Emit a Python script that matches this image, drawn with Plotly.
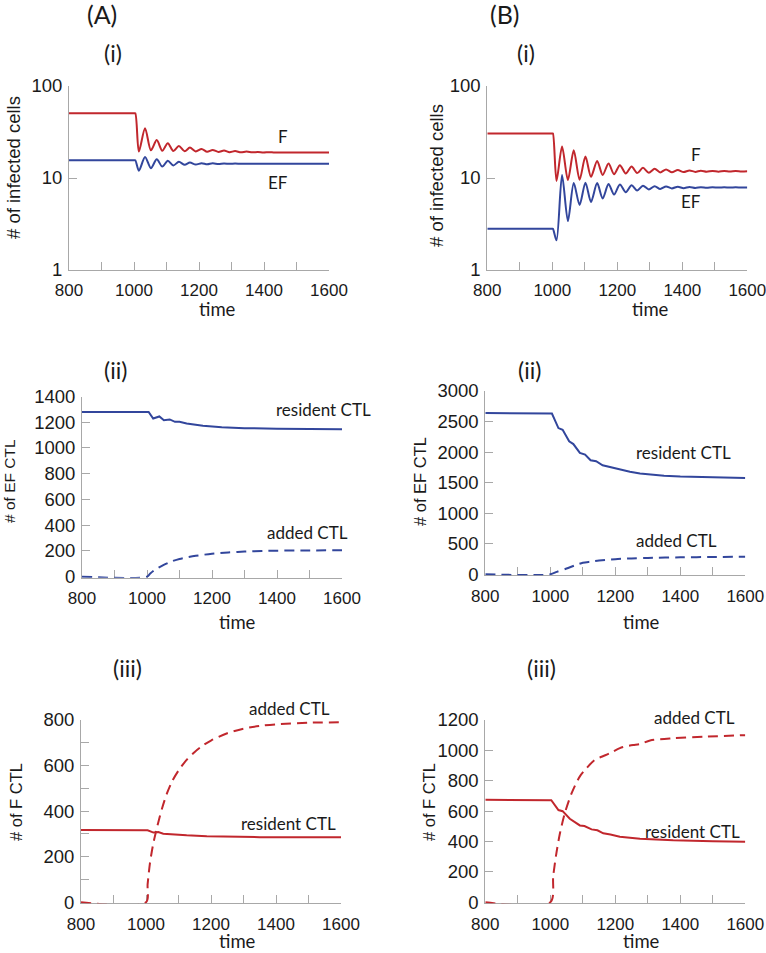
import plotly.graph_objects as go

W, H = 766, 953
RED = 'rgb(193,39,45)'
BLUE = 'rgb(50,70,156)'
AXC = '#a8a8a8'

# ---------------- data ----------------
# (A)(i) infected cells (log scale)
t_Ai = [800, 1000, 1004, 1015, 1034, 1052, 1070, 1087, 1104, 1121, 1138, 1156, 1172, 1190,
        1208, 1225, 1242, 1260, 1277, 1294, 1311, 1329, 1346, 1364, 1381, 1398, 1416, 1433,
        1500, 1600]
F_Ai = [50.5, 50.5, 50.5, 19.4, 34.8, 20.0, 25.9, 19.8, 23.9, 19.6, 22.3, 19.5, 21.4, 19.4,
        20.7, 19.3, 20.2, 19.2, 19.9, 19.1, 19.6, 19.0, 19.4, 19.0, 19.2, 18.95, 19.1, 18.92,
        18.9, 18.9]
EF_Ai = [15.6, 15.6, 15.6, 12.0, 16.9, 12.8, 16.0, 13.3, 15.4, 13.7, 15.0, 13.9, 14.7, 14.0,
         14.5, 14.1, 14.45, 14.2, 14.4, 14.25, 14.35, 14.28, 14.33, 14.28, 14.32, 14.28, 14.31,
         14.29, 14.3, 14.3]

# (B)(i) infected cells (log scale)
t_Bi = [800, 1000, 1002, 1013, 1030, 1048, 1066, 1084, 1102, 1119, 1138, 1155, 1173, 1190,
        1208, 1226, 1244, 1261, 1279, 1297, 1315, 1332, 1350, 1368, 1386, 1404, 1422, 1440,
        1457, 1475, 1493, 1511, 1529, 1546, 1564, 1582, 1600]
F_Bi = [30.5, 30.5, 30.5, 9.3, 22.0, 9.5, 20.0, 9.6, 17.1, 10.3, 15.3, 10.8, 14.4, 11.0,
        13.8, 11.2, 13.3, 11.3, 12.9, 11.4, 12.6, 11.5, 12.4, 11.55, 12.2, 11.6, 12.1, 11.65,
        12.0, 11.7, 11.95, 11.72, 11.9, 11.74, 11.88, 11.76, 11.82]
EF_Bi = [2.8, 2.8, 2.8, 2.1, 10.8, 3.4, 8.8, 5.1, 8.9, 5.5, 8.8, 6.0, 8.6, 6.6,
         8.5, 7.0, 8.35, 7.3, 8.25, 7.5, 8.15, 7.6, 8.1, 7.7, 8.05, 7.75, 8.0, 7.8,
         7.95, 7.85, 7.94, 7.86, 7.93, 7.87, 7.92, 7.88, 7.9]

# (A)(ii) EF CTL
t_Aii_res = [800, 1000, 1005, 1019, 1030, 1038, 1052, 1062, 1070, 1086, 1100, 1122, 1150,
             1172, 1230, 1300, 1400, 1500, 1600]
res_Aii = [1280, 1280, 1280, 1229, 1240, 1245, 1216, 1222, 1222, 1203, 1204, 1190, 1180,
           1172, 1162, 1154, 1150, 1147, 1146]
t_Aii_add = [800, 1000, 1010, 1025, 1050, 1075, 1100, 1150, 1200, 1250, 1300, 1400, 1500, 1600]
add_Aii = [0, 0, 25, 55, 90, 118, 138, 162, 178, 188, 195, 202, 204, 205]

# (B)(ii) EF CTL
t_Bii_res = [800, 1000, 1005, 1025, 1038, 1058, 1071, 1091, 1107, 1124, 1141, 1161, 1174,
             1195, 1214, 1245, 1276, 1300, 1350, 1400, 1500, 1600]
res_Bii = [2640, 2640, 2630, 2393, 2366, 2176, 2132, 1986, 1959, 1866, 1850, 1785, 1769,
           1735, 1714, 1680, 1650, 1635, 1615, 1602, 1585, 1575]
t_Bii_add = [800, 1000, 1020, 1050, 1075, 1100, 1125, 1150, 1200, 1250, 1300, 1400, 1500, 1600]
add_Bii = [0, 0, 40, 95, 145, 190, 208, 225, 248, 260, 268, 278, 283, 287]

# (A)(iii) F CTL
t_Aiii_res = [800, 1000, 1005, 1023, 1038, 1053, 1080, 1125, 1187, 1269, 1350, 1450, 1600]
res_Aiii = [317, 317, 316, 306, 308, 301, 298, 294, 290, 287, 286, 285, 285]
t_Aiii_add = [800, 1000, 1005, 1012, 1022, 1035, 1050, 1065, 1080, 1100, 1125, 1150, 1175,
              1200, 1250, 1300, 1350, 1400, 1500, 1600]
add_Aiii = [0, 0, 80, 170, 255, 335, 415, 480, 530, 578, 625, 660, 688, 710, 742, 762, 774,
            781, 788, 790]

# (B)(iii) F CTL
t_Biii_res = [800, 1000, 1003, 1025, 1038, 1060, 1076, 1091, 1105, 1127, 1145, 1163, 1185,
              1214, 1276, 1378, 1500, 1600]
res_Biii = [675, 675, 672, 607, 600, 550, 528, 506, 502, 480, 474, 454, 446, 432, 419, 408,
            402, 399]
t_Biii_add = [800, 1000, 1009, 1019, 1030, 1045, 1066, 1091, 1112, 1137, 1160, 1184, 1214,
              1240, 1255, 1276, 1307, 1378, 1481, 1600]
add_Biii = [0, 0, 175, 327, 458, 589, 720, 829, 884, 938, 960, 982, 1015, 1030, 1036, 1041,
            1065, 1080, 1091, 1100]

x_ticks = [800, 1000, 1200, 1400, 1600]

# ---------------- layout helpers ----------------
def fx(x):
    return x / W


def fy(y):
    return 1 - y / H

# plot rectangles in pixels: (left, right, top, bottom)
panels = [
    (69, 329, 86, 270),
    (487.3, 747.3, 86, 270),
    (82, 342, 396.5, 577.7),
    (485.3, 745.3, 391, 575.3),
    (81, 341, 720, 903.3),
    (485.3, 745.3, 720, 903.3),
]

fig = go.Figure()

def add_line(i, x, y, color, dash='solid', shape='linear'):
    sfx = '' if i == 1 else str(i)
    fig.add_trace(go.Scatter(
        x=x, y=y, mode='lines', xaxis='x' + sfx, yaxis='y' + sfx,
        line=dict(color=color, width=2, dash=dash, shape=shape, smoothing=0.8),
        showlegend=False, hoverinfo='skip'))

DASH = '10px,6px'
add_line(1, t_Ai, F_Ai, RED, shape='spline')
add_line(1, t_Ai, EF_Ai, BLUE, shape='spline')
add_line(2, t_Bi, F_Bi, RED, shape='spline')
add_line(2, t_Bi, EF_Bi, BLUE, shape='spline')
add_line(3, t_Aii_res, res_Aii, BLUE)
add_line(3, t_Aii_add, add_Aii, BLUE, dash=DASH, shape='spline')
add_line(4, t_Bii_res, res_Bii, BLUE)
add_line(4, t_Bii_add, add_Bii, BLUE, dash=DASH, shape='spline')
add_line(5, t_Aiii_res, res_Aiii, RED)
add_line(5, t_Aiii_add, add_Aiii, RED, dash=DASH, shape='spline')
add_line(6, t_Biii_res, res_Biii, RED)
add_line(6, t_Biii_add, add_Biii, RED, dash=DASH, shape='spline')

common = dict(showline=True, linecolor=AXC, linewidth=1, ticks='inside', ticklen=8,
              tickcolor=AXC, tickwidth=1, showgrid=False, zeroline=False,
              layer='below traces', fixedrange=True, automargin=False,
              ticklabeloverflow='allow')

yinfo = [
    dict(type='log', range=[0, 2], tickvals=[1, 10, 100], ticktext=['1', '10', '100']),
    dict(type='log', range=[0, 2], tickvals=[1, 10, 100], ticktext=['1', '10', '100']),
    dict(range=[-8, 1400], tick0=0, dtick=200),
    dict(range=[-16, 3000], tick0=0, dtick=500),
    dict(range=[-4.4, 800], tick0=0, dtick=200,
         minor=dict(dtick=100, ticks='inside', ticklen=8, tickcolor=AXC)),
    dict(range=[-6.5, 1200], tick0=0, dtick=200),
]

layout = dict(width=W, height=H, margin=dict(l=0, r=0, t=0, b=0, autoexpand=False),
              paper_bgcolor='white', plot_bgcolor='white', showlegend=False)

for i, (l, r, t, b) in enumerate(panels, start=1):
    sfx = '' if i == 1 else str(i)
    xa = dict(common, domain=[fx(l), fx(r)], range=[800, 1600], tickvals=x_ticks,
              anchor='y' + sfx,
              minor=dict(tickvals=[900, 1100, 1300, 1500], ticks='inside', ticklen=8,
                         tickcolor=AXC),
              tickfont=dict(family='Liberation Sans, Arial', size=17, color='#1a1a1a'),
              ticklabelstandoff=5)
    ya = dict(common, domain=[fy(b), fy(t)], anchor='x' + sfx,
              tickfont=dict(family='Liberation Sans, Arial', size=18.5, color='#1a1a1a'),
              ticklabelstandoff=2)
    ya.update(yinfo[i - 1])
    layout['xaxis' + sfx] = xa
    layout['yaxis' + sfx] = ya

fig.update_layout(**layout)

ann = []

def text(x, y, s, size, family='Lato', angle=0):
    ann.append(dict(x=fx(x), y=fy(y), xref='paper', yref='paper', text=s,
                    showarrow=False, xanchor='center', yanchor='middle', textangle=angle,
                    font=dict(family=family, size=size, color='#1a1a1a')))

# panel letters
text(102, 14, '(A)', 25)
text(505, 14, '(B)', 25)
text(113, 53, '(i)', 23)
text(526, 53, '(i)', 23)
text(115, 370, '(ii)', 23)
text(529, 370, '(ii)', 23)
text(127, 668, '(iii)', 23)
text(541, 668, '(iii)', 23)

# x titles
for (x, y) in [(218, 309), (650, 309), (237, 622), (641, 622), (237, 941), (641, 941)]:
    text(x, y, 'time', 18.5)

# y titles
ARIAL = 'Liberation Sans, Arial'
text(13, 168, '# of infected cells', 18.5, ARIAL, -90)
text(437, 176, '# of infected cells', 18.5, ARIAL, -90)
text(10, 481, '# of EF CTL', 15.5, ARIAL, -90)
text(420, 482, '# of EF CTL', 16.5, ARIAL, -90)
text(16, 802, '# of F CTL', 16.5, ARIAL, -90)
text(429, 802, '# of F CTL', 16.5, ARIAL, -90)

# series labels
text(283, 137, 'F', 17)
text(278, 182, 'EF', 17)
text(696, 154, 'F', 17)
text(691, 201, 'EF', 17)
text(323, 409, 'resident CTL', 17)
text(307, 532, 'added CTL', 17)
text(683, 453, 'resident CTL', 17)
text(676, 540, 'added CTL', 17)
text(289, 708, 'added CTL', 17)
text(288, 823, 'resident CTL', 17)
text(694, 717, 'added CTL', 17)
text(692, 831, 'resident CTL', 17)

fig.update_layout(annotations=ann)
fig.write_html('out.html', config={'displayModeBar': False},
               post_script="document.body.style.margin='0';"
                           "document.body.style.padding='0';"
                           "document.body.style.overflow='hidden';")
